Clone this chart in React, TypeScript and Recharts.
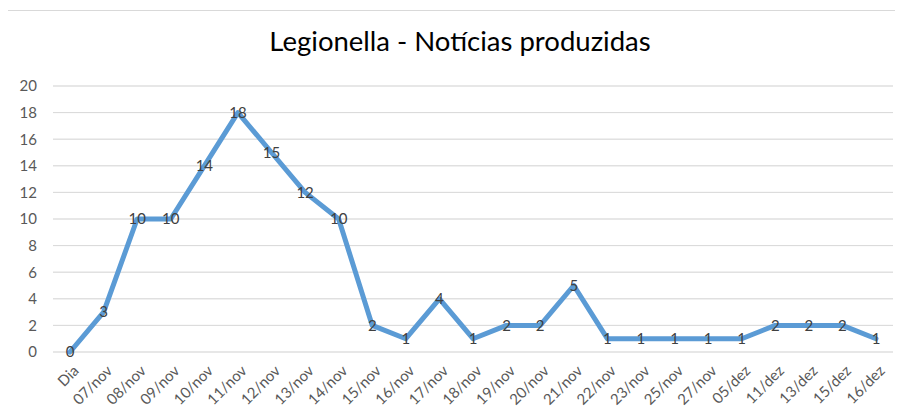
import { LineChart, Line, XAxis, YAxis, CartesianGrid, LabelList } from 'recharts';

const dias = [
  'Dia', '07/nov', '08/nov', '09/nov', '10/nov', '11/nov', '12/nov', '13/nov', '14/nov',
  '15/nov', '16/nov', '17/nov', '18/nov', '19/nov', '20/nov', '21/nov', '22/nov', '23/nov',
  '25/nov', '27/nov', '05/dez', '11/dez', '13/dez', '15/dez', '16/dez',
];
const noticias = [0, 3, 10, 10, 14, 18, 15, 12, 10, 2, 1, 4, 1, 2, 2, 5, 1, 1, 1, 1, 1, 2, 2, 2, 1];
const yTicks = [0, 2, 4, 6, 8, 10, 12, 14, 16, 18, 20];
const minorLines = Array.from({ length: 51 }, (_, i) => +(i * 0.4).toFixed(1));

const data = dias.map((dia, i) => ({ dia, valor: noticias[i] }));

const FONT = 'Lato, "Open Sans", sans-serif';

function XTick({ x, y, payload }: any) {
  return (
    <g transform={`translate(${x + 6},${y + 8})`}>
      <text textAnchor="end" transform="rotate(-45)" fill="#595959" fontSize={15} fontFamily={FONT} dy="0.35em">
        {payload.value}
      </text>
    </g>
  );
}

export default function App() {
  return (
    <div style={{ position: 'relative', width: 903, height: 419, margin: -8, overflow: 'hidden', background: '#fff' }}>
      <div style={{ position: 'absolute', left: 7, top: 10, width: 1000, height: 1000, border: '1.5px solid #d9d9d9' }} />
      <div style={{ position: 'absolute', left: 0, top: 24, width: 920, textAlign: 'center', fontFamily: FONT, fontSize: 27.5, color: '#000' }}>
        Legionella - Notícias produzidas
      </div>
      <div style={{ position: 'absolute', left: 0, top: 0 }}>
        <LineChart width={903} height={419} data={data} margin={{ top: 86, right: 10, bottom: 0, left: 0 }}>
          <CartesianGrid vertical={false} horizontalValues={minorLines} stroke="#ececec" strokeWidth={1} />
          <CartesianGrid vertical={false} horizontalValues={yTicks} stroke="#d9d9d9" strokeWidth={1} />
          <XAxis
            dataKey="dia"
            interval={0}
            tickLine={false}
            axisLine={false}
            height={67}
            padding={{ left: 17, right: 17 }}
            tick={<XTick />}
          />
          <YAxis
            domain={[0, 20]}
            ticks={yTicks}
            width={53}
            tickLine={false}
            axisLine={false}
            tickMargin={10}
            tick={{ fill: '#595959', fontSize: 15, fontFamily: FONT }}
          />
          <Line
            type="linear"
            dataKey="valor"
            stroke="#5b9bd5"
            strokeWidth={5}
            strokeLinejoin="round"
            strokeLinecap="round"
            dot={false}
            isAnimationActive={false}
          >
            <LabelList dataKey="valor" position="center" fill="#404040" fontSize={15} fontFamily={FONT} />
          </Line>
        </LineChart>
      </div>
    </div>
  );
}
